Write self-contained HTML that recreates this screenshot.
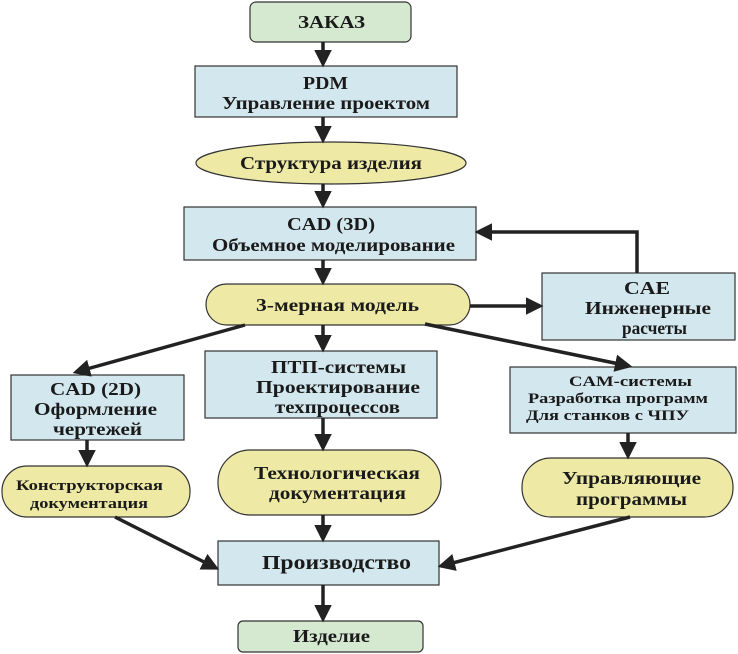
<!DOCTYPE html>
<html><head><meta charset="utf-8"><style>
html,body{margin:0;padding:0;background:#fff;width:738px;height:654px;overflow:hidden}
</style></head><body>
<svg width="738" height="654" viewBox="0 0 738 654" xmlns="http://www.w3.org/2000/svg">
<defs><marker id="a" markerWidth="5" markerHeight="5" refX="4" refY="2.5" orient="auto" markerUnits="strokeWidth"><path d="M0,0 L5,2.5 L0,5 z" fill="#222"/></marker></defs>
<g stroke="#333" stroke-width="1.2">
<rect x="250" y="2" width="161" height="40" rx="6" fill="#d5e8d0"/>
<rect x="195" y="66" width="262" height="51" fill="#d3e7ee"/>
<ellipse cx="331" cy="163" rx="135" ry="21" fill="#eeeaa6"/>
<rect x="184" y="207" width="292" height="53" fill="#d3e7ee"/>
<rect x="206" y="284" width="264" height="41" rx="20.5" fill="#eeeaa6"/>
<rect x="542" y="273" width="193" height="67" fill="#d3e7ee"/>
<rect x="205" y="351" width="232" height="67" fill="#d3e7ee"/>
<rect x="11" y="375" width="173" height="65" fill="#d3e7ee"/>
<rect x="510" y="367" width="226" height="66" fill="#d3e7ee"/>
<rect x="2" y="466" width="188" height="51" rx="25" fill="#eeeaa6"/>
<rect x="218" y="450" width="223" height="65" rx="32" fill="#eeeaa6"/>
<rect x="522" y="458" width="211" height="59" rx="29" fill="#eeeaa6"/>
<rect x="218" y="541" width="221" height="44" fill="#d3e7ee"/>
<rect x="238" y="621" width="185" height="31" rx="5" fill="#d5e8d0"/>
</g>
<g stroke="#222" stroke-width="3.5" fill="none" marker-end="url(#a)">
<line x1="323" y1="42" x2="323" y2="64"/>
<line x1="323" y1="117" x2="323" y2="140"/>
<line x1="323" y1="184" x2="323" y2="205"/>
<line x1="323" y1="260" x2="323" y2="282"/>
<polyline points="637,273 637,232 478,232"/>
<line x1="470" y1="306" x2="540" y2="306"/>
<line x1="245" y1="325" x2="76" y2="372"/>
<line x1="323" y1="325" x2="323" y2="349"/>
<line x1="425" y1="324" x2="629" y2="366"/>
<line x1="87" y1="440" x2="87" y2="464"/>
<line x1="323" y1="418" x2="323" y2="448"/>
<line x1="628" y1="433" x2="628" y2="456"/>
<line x1="115" y1="517" x2="216" y2="568"/>
<line x1="323" y1="515" x2="323" y2="539"/>
<line x1="630" y1="517" x2="441" y2="566"/>
<line x1="323" y1="585" x2="323" y2="619"/>
</g>
<g font-family="Liberation Serif, DejaVu Serif, serif" font-weight="bold" fill="#1a1a1a" font-size="18">
<text x="298" y="28" textLength="67" lengthAdjust="spacingAndGlyphs">ЗАКАЗ</text>
<text x="303" y="89" textLength="45" lengthAdjust="spacingAndGlyphs">PDM</text>
<text x="222" y="109" textLength="208" lengthAdjust="spacingAndGlyphs">Управление проектом</text>
<text x="240" y="169" textLength="182" lengthAdjust="spacingAndGlyphs">Структура изделия</text>
<text x="287" y="230" textLength="88" lengthAdjust="spacingAndGlyphs">CAD (3D)</text>
<text x="212" y="251" textLength="243" lengthAdjust="spacingAndGlyphs">Объемное моделирование</text>
<text x="256" y="311" textLength="163" lengthAdjust="spacingAndGlyphs">3-мерная модель</text>
<text x="624" y="294" textLength="46" lengthAdjust="spacingAndGlyphs">CAE</text>
<text x="585" y="314" textLength="126" lengthAdjust="spacingAndGlyphs">Инженерные</text>
<text x="622" y="334" textLength="65" lengthAdjust="spacingAndGlyphs">расчеты</text>
<text x="271" y="373" textLength="135" lengthAdjust="spacingAndGlyphs">ПТП-системы</text>
<text x="256" y="393" textLength="164" lengthAdjust="spacingAndGlyphs">Проектирование</text>
<text x="275" y="413" textLength="125" lengthAdjust="spacingAndGlyphs">техпроцессов</text>
<text x="50" y="395" textLength="91" lengthAdjust="spacingAndGlyphs">CAD (2D)</text>
<text x="34" y="415" textLength="123" lengthAdjust="spacingAndGlyphs">Оформление</text>
<text x="53" y="435" textLength="89" lengthAdjust="spacingAndGlyphs">чертежей</text>
<text x="569" y="386" font-size="15" textLength="123" lengthAdjust="spacingAndGlyphs">CAM-системы</text>
<text x="528" y="403" font-size="15" textLength="180" lengthAdjust="spacingAndGlyphs">Разработка программ</text>
<text x="526" y="420" font-size="15" textLength="163" lengthAdjust="spacingAndGlyphs">Для станков с ЧПУ</text>
<text x="16" y="490" font-size="15" textLength="147" lengthAdjust="spacingAndGlyphs">Конструкторская</text>
<text x="30" y="508" font-size="15" textLength="118" lengthAdjust="spacingAndGlyphs">документация</text>
<text x="254" y="479" textLength="166" lengthAdjust="spacingAndGlyphs">Технологическая</text>
<text x="269" y="499" textLength="137" lengthAdjust="spacingAndGlyphs">документация</text>
<text x="562" y="484" textLength="139" lengthAdjust="spacingAndGlyphs">Управляющие</text>
<text x="576" y="505" textLength="111" lengthAdjust="spacingAndGlyphs">программы</text>
<text x="262" y="569" font-size="20" textLength="149" lengthAdjust="spacingAndGlyphs">Производство</text>
<text x="293" y="642" textLength="77" lengthAdjust="spacingAndGlyphs">Изделие</text>
</g>
</svg>
</body></html>
